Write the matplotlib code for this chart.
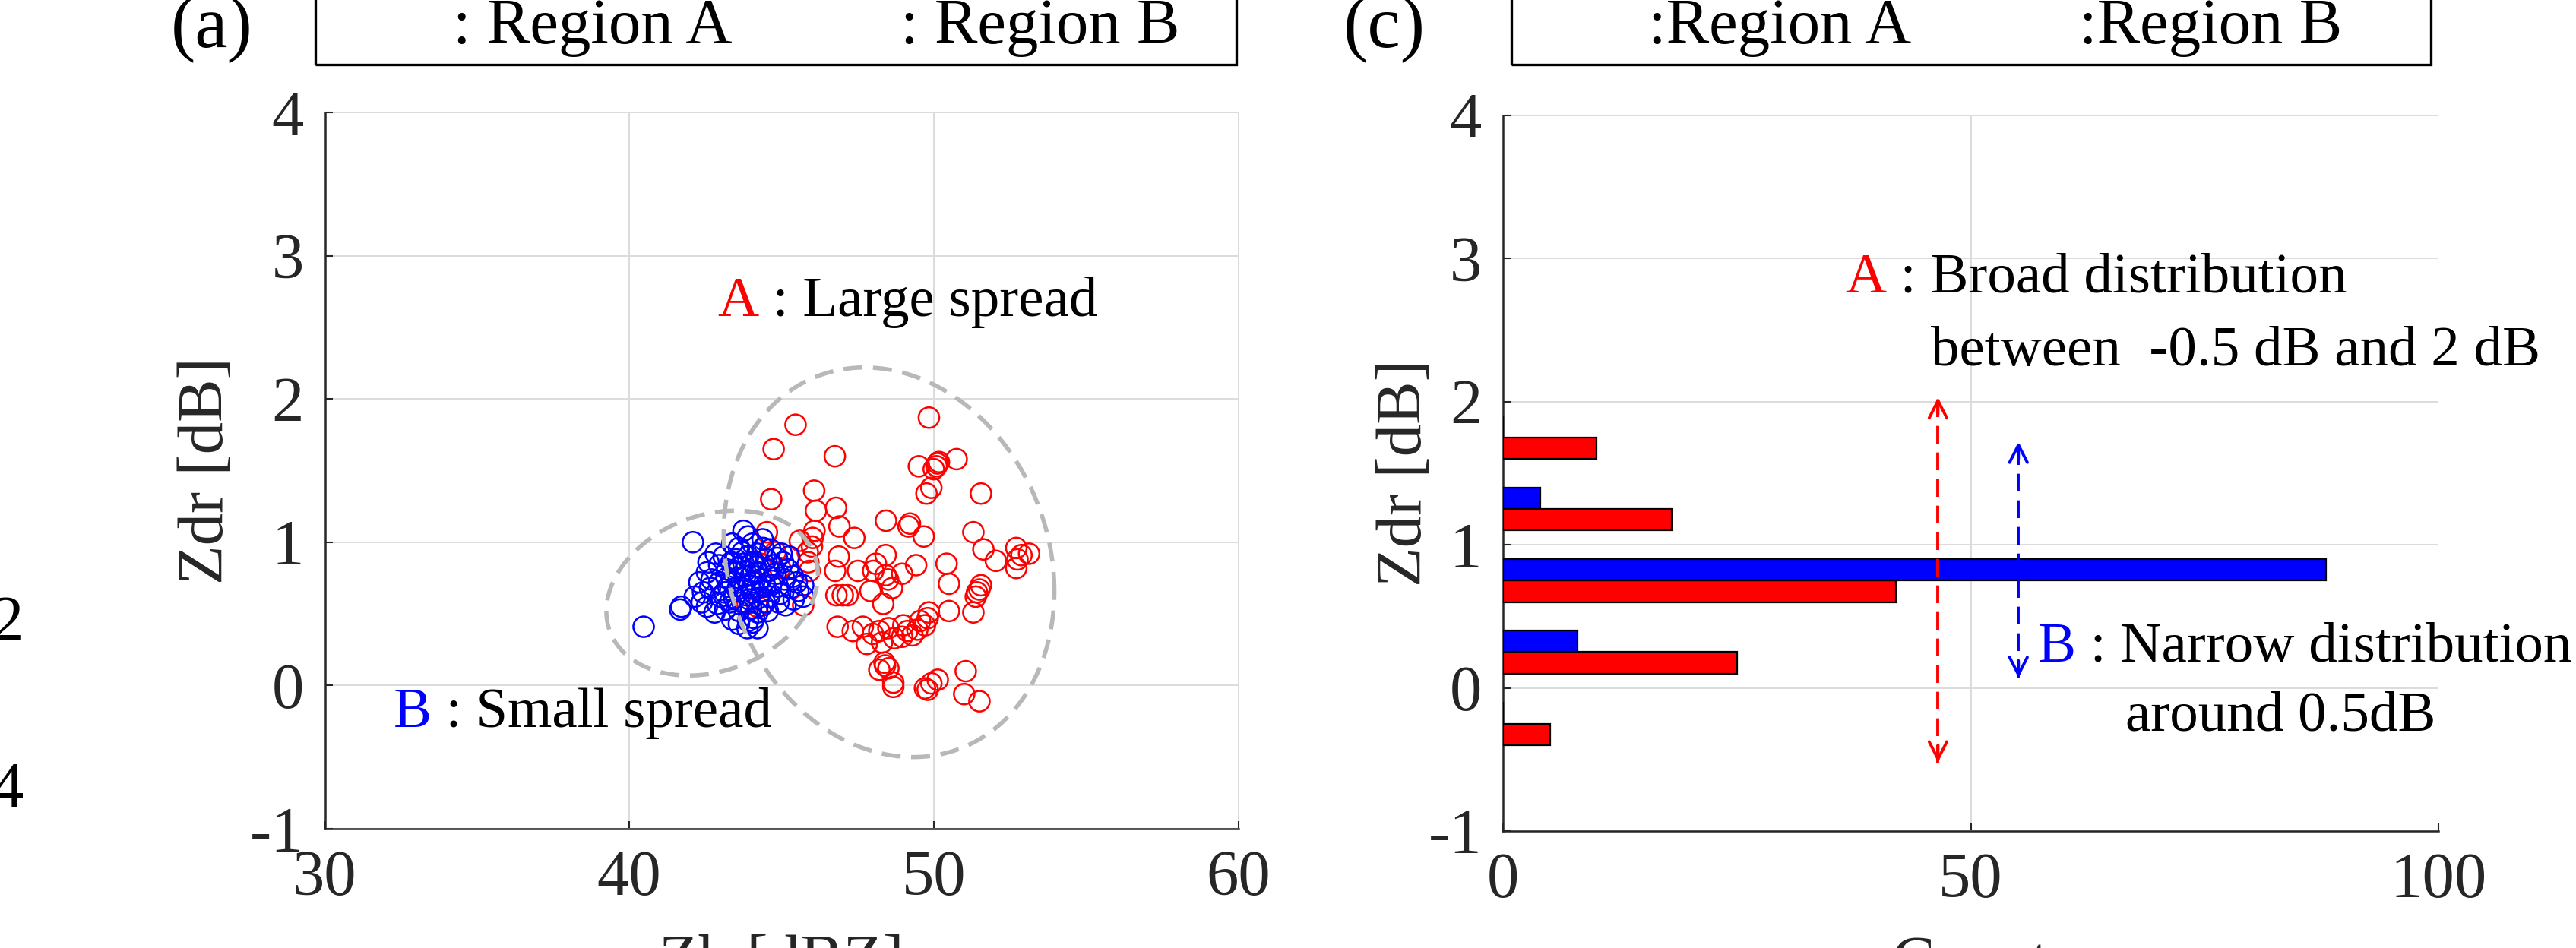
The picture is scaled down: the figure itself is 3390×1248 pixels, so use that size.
import numpy as np
import matplotlib.pyplot as plt
from matplotlib.patches import Rectangle

plt.rcParams['font.family'] = ['Liberation Serif', 'DejaVu Serif']
plt.rcParams['axes.unicode_minus'] = False

# --- data ---

# (a) scatter, region A (red)
red_zh = [
    49.84, 45.46, 44.74, 46.75, 49.51, 50.09, 50.17, 50.75, 50.00, 50.12,
    49.76, 49.92, 51.55, 44.66, 46.07, 46.13, 46.79, 46.08, 46.90, 47.39,
    48.43, 49.17, 49.67, 51.30, 44.52, 45.60, 49.22, 46.02,
    45.86, 45.88, 45.92, 46.88, 46.76, 47.51, 48.01, 48.42, 48.42, 48.96,
    49.42, 50.42, 50.50, 47.92, 48.63, 48.34, 46.80, 47.01, 47.17, 51.55,
    51.42, 51.38, 51.30, 50.50, 49.84, 51.63, 52.04, 52.71, 53.13, 52.88,
    52.71, 52.75, 44.21, 43.88, 45.71, 44.30, 44.80, 44.95, 48.10, 48.50,
    51.50, 46.00,
    49.80, 49.71, 46.84, 47.34, 47.67, 47.80, 48.21, 48.30, 48.51, 48.96,
    49.13, 49.30, 49.46, 48.38, 48.21, 48.51, 48.67, 49.92, 50.13, 51.05,
    49.55, 48.00, 48.70, 49.00, 48.40,
    49.71, 51.00, 51.50, 48.67, 49.80,
]
red_zdr = [
    1.87, 1.82, 1.65, 1.60, 1.53, 1.53, 1.56, 1.58, 1.51, 1.55,
    1.34, 1.38, 1.34, 1.30, 1.36, 1.22, 1.24, 1.08, 1.11, 1.03,
    1.15, 1.11, 1.04, 1.07, 1.07, 1.01, 1.13, 1.03,
    0.93, 0.86, 0.80, 0.90, 0.80, 0.80, 0.80, 0.91, 0.77, 0.78,
    0.84, 0.85, 0.71, 0.66, 0.68, 0.57, 0.63, 0.63, 0.63, 0.70,
    0.65, 0.62, 0.51, 0.52, 0.51, 0.95, 0.87, 0.96, 0.92, 0.91,
    0.82, 0.88, 0.55, 0.57, 0.56, 0.85, 0.93, 0.82, 0.85, 0.74,
    0.67, 0.97,
    0.47, 0.42, 0.41, 0.38, 0.41, 0.29, 0.38, 0.30, 0.40, 0.34,
    0.38, 0.35, 0.39, 0.16, 0.11, 0.12, 0.02, 0.015, 0.04, 0.10,
    0.45, 0.36, 0.33, 0.42, 0.14,
    -0.02, -0.06, -0.11, -0.01, -0.03,
]

# (a) scatter, region B (blue)
blue_zh = [
    41.71, 41.67, 42.42, 42.38, 42.55, 42.84, 42.80, 43.38, 43.71, 44.05,
    44.63, 44.05, 43.63, 43.21, 42.96, 43.38, 43.80, 44.21, 44.71, 45.05,
    45.21, 45.38, 45.71, 45.71, 45.13, 44.88, 44.46, 44.05, 43.71, 44.21,
    44.38, 43.13, 43.55, 43.30,
    43.50, 43.90, 44.20, 44.50, 44.80, 44.30, 43.95, 43.60, 43.25, 43.00,
    43.45, 43.85, 44.25, 44.60, 44.95, 45.30, 45.50, 45.10, 44.70, 44.15,
    43.75, 43.35, 42.95, 42.70, 42.65, 42.90, 43.15, 43.60, 44.00, 44.55,
    44.90, 45.40, 45.55, 45.00, 44.40, 43.60, 43.10, 42.60, 42.30, 42.15,
    42.55, 43.80, 44.00, 44.60, 44.35, 43.70, 43.40, 44.85, 45.25, 43.95,
    44.65, 43.20, 44.10, 44.45,
    43.75, 44.38, 42.09, 43.90,
    40.47, 43.38, 44.05, 44.21, 43.88, 43.60, 44.10, 43.90,
]
blue_zdr = [
    0.55, 0.53, 0.65, 0.58, 0.79, 0.92, 0.51, 0.99, 0.93, 0.99,
    0.95, 0.86, 0.83, 0.81, 0.72, 0.72, 0.76, 0.79, 0.84, 0.86,
    0.81, 0.76, 0.70, 0.62, 0.56, 0.69, 0.69, 0.65, 0.58, 0.51,
    0.56, 0.65, 0.67, 0.58,
    0.88, 0.90, 0.92, 0.88, 0.78, 0.74, 0.70, 0.75, 0.69, 0.62,
    0.61, 0.63, 0.61, 0.62, 0.64, 0.68, 0.72, 0.74, 0.73, 0.83,
    0.85, 0.86, 0.84, 0.74, 0.68, 0.57, 0.53, 0.52, 0.54, 0.52,
    0.58, 0.60, 0.66, 0.92, 0.96, 0.96, 0.90, 0.86, 0.72, 0.62,
    0.55, 0.80, 0.77, 0.80, 0.66, 0.68, 0.79, 0.89, 0.90, 0.60,
    0.70, 0.75, 0.72, 0.58,
    1.08, 1.02, 1.00, 1.04,
    0.41, 0.46, 0.44, 0.40, 0.40, 0.43, 0.47, 0.45,
]

# (c) horizontal histogram of Zdr
bin_centers = [-0.25, 0.25, 0.75, 1.25, 1.75]
red_counts = [5, 25, 42, 18, 10]
blue_counts = [0, 8, 88, 4, 0]

AX_COLOR = '#262626'
GRID_COLOR = '#dcdcdc'
ELL_COLOR = '#b8b8b8'


def style_axes(ax):
    for side in ['top', 'right']:
        ax.spines[side].set_visible(False)
    for side in ['left', 'bottom']:
        ax.spines[side].set_linewidth(1.8)
        ax.spines[side].set_color(AX_COLOR)
    ax.grid(True, color=GRID_COLOR, linewidth=1.4)
    ax.set_axisbelow(True)
    ax.tick_params(direction='in', length=7, width=1.5, pad=20,
                   labelsize=61, colors=AX_COLOR)


def draw_ellipse(ax, cx, cy, a1, a2, b2):
    # tilted ellipse written as x = cx + a1 cos t, y = cy + a2 cos t + b2 sin t
    t = np.linspace(0, 2 * np.pi, 400)
    ax.plot(cx + a1 * np.cos(t), cy + a2 * np.cos(t) + b2 * np.sin(t),
            color=ELL_COLOR, lw=4.0, linestyle=(0, (4.5, 2.5)), zorder=4)


def dashed_double_arrow(ax, x, y0, y1, color):
    ax.plot([x, x], [y0, y1], color=color, lw=2.8,
            linestyle=(0, (6, 3)), zorder=5)
    for tip, tail in [(y1, y1 - 0.12), (y0, y0 + 0.12)]:
        ax.annotate('', xy=(x, tip), xytext=(x, tail),
                    arrowprops=dict(arrowstyle='->,head_length=0.55,head_width=0.28',
                                    color=color, lw=2.8, mutation_scale=30,
                                    shrinkA=0, shrinkB=0), zorder=5)


def colored_label(ax, x, y, letter, color, rest, size=54):
    t = ax.text(x, y, letter, color=color, fontsize=size, ha='left', va='center')
    ax.annotate(rest, xy=(1, 0), xycoords=t, fontsize=size, color='black',
                ha='left', va='bottom')


fig = plt.figure(figsize=(33.91, 12.48), dpi=100)

# ---------------- (a) scatter ----------------
ax_a = fig.add_axes([0.12607, 0.12580, 0.35447, 0.75561])
style_axes(ax_a)
ax_a.scatter(red_zh, red_zdr, s=380, facecolors='none', edgecolors='red',
             linewidths=1.8, zorder=3)
ax_a.scatter(blue_zh, blue_zdr, s=380, facecolors='none', edgecolors='blue',
             linewidths=1.8, zorder=3)
draw_ellipse(ax_a, 48.53, 0.86, 5.43, -0.20, 1.345)
draw_ellipse(ax_a, 42.72, 0.645, 3.475, 0.127, 0.561)
ax_a.set_xlim(30, 60)
ax_a.set_ylim(-1, 4)
ax_a.set_xticks([30, 40, 50, 60])
ax_a.set_yticks([-1, 0, 1, 2, 3, 4])
ax_a.set_ylabel('Zdr [dB]', fontsize=61, color=AX_COLOR)
ax_a.yaxis.set_label_coords(-0.097, 0.5)
ax_a.set_xlabel('Zh [dBZ]', fontsize=61, color=AX_COLOR)
ax_a.xaxis.set_label_coords(0.5, -0.147)
colored_label(ax_a, 42.9, 2.675, 'A', 'red', ' : Large spread')
colored_label(ax_a, 32.26, -0.197, 'B', 'blue', ' : Small spread')

# ---------------- (c) histogram ----------------
ax_c = fig.add_axes([0.58331, 0.12340, 0.36302, 0.75481])
style_axes(ax_c)
centers = np.array(bin_centers)
ax_c.barh(centers - 0.075, red_counts, height=0.15, color='red',
          edgecolor='black', linewidth=1.6, zorder=3)
ax_c.barh(centers + 0.075, blue_counts, height=0.15, color='blue',
          edgecolor='black', linewidth=1.6, zorder=3)
ax_c.set_xlim(0, 100)
ax_c.set_ylim(-1, 4)
ax_c.set_xticks([0, 50, 100])
ax_c.set_yticks([-1, 0, 1, 2, 3, 4])
ax_c.set_ylabel('Zdr [dB]', fontsize=61, color=AX_COLOR)
ax_c.yaxis.set_label_coords(-0.073, 0.5)
ax_c.set_xlabel('Count', fontsize=61, color=AX_COLOR)
ax_c.xaxis.set_label_coords(0.5, -0.147)
dashed_double_arrow(ax_c, 46.5, -0.52, 2.03, 'red')
dashed_double_arrow(ax_c, 55.1, 0.07, 1.72, 'blue')
colored_label(ax_c, 36.55, 2.86, 'A', 'red', ' : Broad distribution')
ax_c.text(45.7, 2.35, 'between  -0.5 dB and 2 dB', fontsize=54,
          ha='left', va='center', clip_on=False)
colored_label(ax_c, 57.2, 0.28, 'B', 'blue', ' : Narrow distribution')
ax_c.text(66.5, -0.20, 'around 0.5dB', fontsize=54, ha='left', va='center')

# ---------------- panel tags and legend boxes ----------------
W, H = 3391.0, 1248.0
fig.text(279 / W, 1 - 62 / H, '(a)', fontsize=70, ha='center', va='baseline')
fig.text(1822 / W, 1 - 62 / H, '(c)', fontsize=70, ha='center', va='baseline')

for left, right in [(415, 1627), (1989, 3199)]:
    fig.add_artist(Rectangle((left / W, 1 - 85 / H), (right - left) / W, 0.2,
                             transform=fig.transFigure, fill=False,
                             edgecolor='black', linewidth=2.4))

fig.text(596 / W, 1 - 57 / H, ': Region A', fontsize=61, va='baseline')
fig.text(1185 / W, 1 - 57 / H, ': Region B', fontsize=61, va='baseline')
fig.text(2169 / W, 1 - 57 / H, ':Region A', fontsize=61, va='baseline')
fig.text(2736 / W, 1 - 57 / H, ':Region B', fontsize=61, va='baseline')

# tick labels of the neighbouring panel, cut by the left edge
fig.text(31 / W, 1 - 843 / H, '2', fontsize=61, ha='right', va='baseline')
fig.text(31 / W, 1 - 1062 / H, '4', fontsize=61, ha='right', va='baseline')

fig.savefig('out.png', dpi=100)
